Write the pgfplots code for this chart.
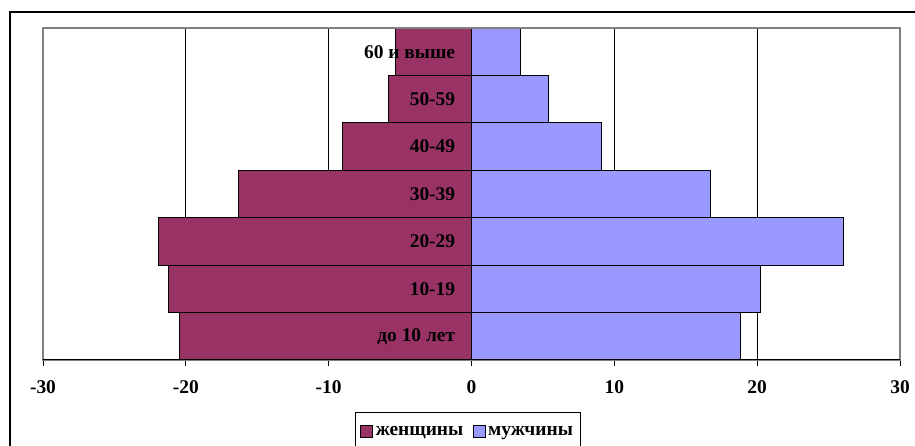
\documentclass[border=0pt]{standalone}
\usepackage{pgfplots}
\pgfplotsset{compat=1.18}
\usepackage{fontspec}
\setmainfont{Liberation Serif}
\definecolor{women}{HTML}{993366}
\definecolor{men}{HTML}{9999FF}
\definecolor{frame}{HTML}{808080}
\newcommand{\lblfont}{\bfseries\fontsize{19.5}{22}\selectfont}
\begin{document}
\begin{tikzpicture}[x=1bp,y=1bp]
\useasboundingbox (0,0) rectangle (915,446);
\clip (0,0) rectangle (915,446);
\draw[line width=1.4bp] (10,-5) -- (10,434) -- (925,434);
\begin{axis}[
  at={(43bp,86bp)}, anchor=south west,
  width=857bp, height=332bp, scale only axis,
  xmin=-30, xmax=30, ymin=-0.5, ymax=6.5,
  xtick={-30,-20,...,30}, ytick=\empty,
  xmajorgrids, grid style={black, line width=0.9bp},
  axis line style={frame, line width=1.2bp},
  tick align=outside, xtick pos=bottom, major tick length=6bp,
  tick style={black, line width=1bp},
  /pgf/number format/assume math mode=true,
  xticklabel style={font=\lblfont, yshift=-11bp},
  legend columns=2,
  legend style={at={(0.364,-0.157)}, anchor=north west, draw=black, line width=1bp,
    font=\lblfont, inner xsep=5bp, inner ysep=8bp,
    nodes={inner xsep=2.5bp, inner ysep=2bp, text height=13bp, text depth=4bp},
    /tikz/every even column/.append style={column sep=7bp}},
  mylegend/.style={legend image code/.code={\draw[##1, line width=0.8bp, draw=black] (0bp,-6bp) rectangle (12bp,6bp);}},
]
\addplot[xbar, bar width=1, bar shift=0, fill=women, draw=black, line width=1bp, mylegend]
  coordinates {(-20.45,0) (-21.2,1) (-21.9,2) (-16.3,3) (-9.05,4) (-5.8,5) (-5.35,6)};
\addlegendentry{женщины}
\addplot[xbar, bar width=1, bar shift=0, fill=men, draw=black, line width=1bp, mylegend]
  coordinates {(18.8,0) (20.25,1) (26.05,2) (16.7,3) (9.1,4) (5.4,5) (3.4,6)};
\addlegendentry{мужчины}
\draw[frame, line width=1.2bp] (rel axis cs:0,0) rectangle (rel axis cs:1,1);
\draw[black, line width=1.4bp] (rel axis cs:0,0) -- (rel axis cs:1,0);
\node[anchor=east, font=\lblfont] at (axis cs:-0.9,6) {60 и выше};
\node[anchor=east, font=\lblfont] at (axis cs:-0.9,5) {50-59};
\node[anchor=east, font=\lblfont] at (axis cs:-0.9,4) {40-49};
\node[anchor=east, font=\lblfont] at (axis cs:-0.9,3) {30-39};
\node[anchor=east, font=\lblfont] at (axis cs:-0.9,2) {20-29};
\node[anchor=east, font=\lblfont] at (axis cs:-0.9,1) {10-19};
\node[anchor=east, font=\lblfont] at (axis cs:-0.9,0) {до 10 лет};
\end{axis}
\end{tikzpicture}
\end{document}
